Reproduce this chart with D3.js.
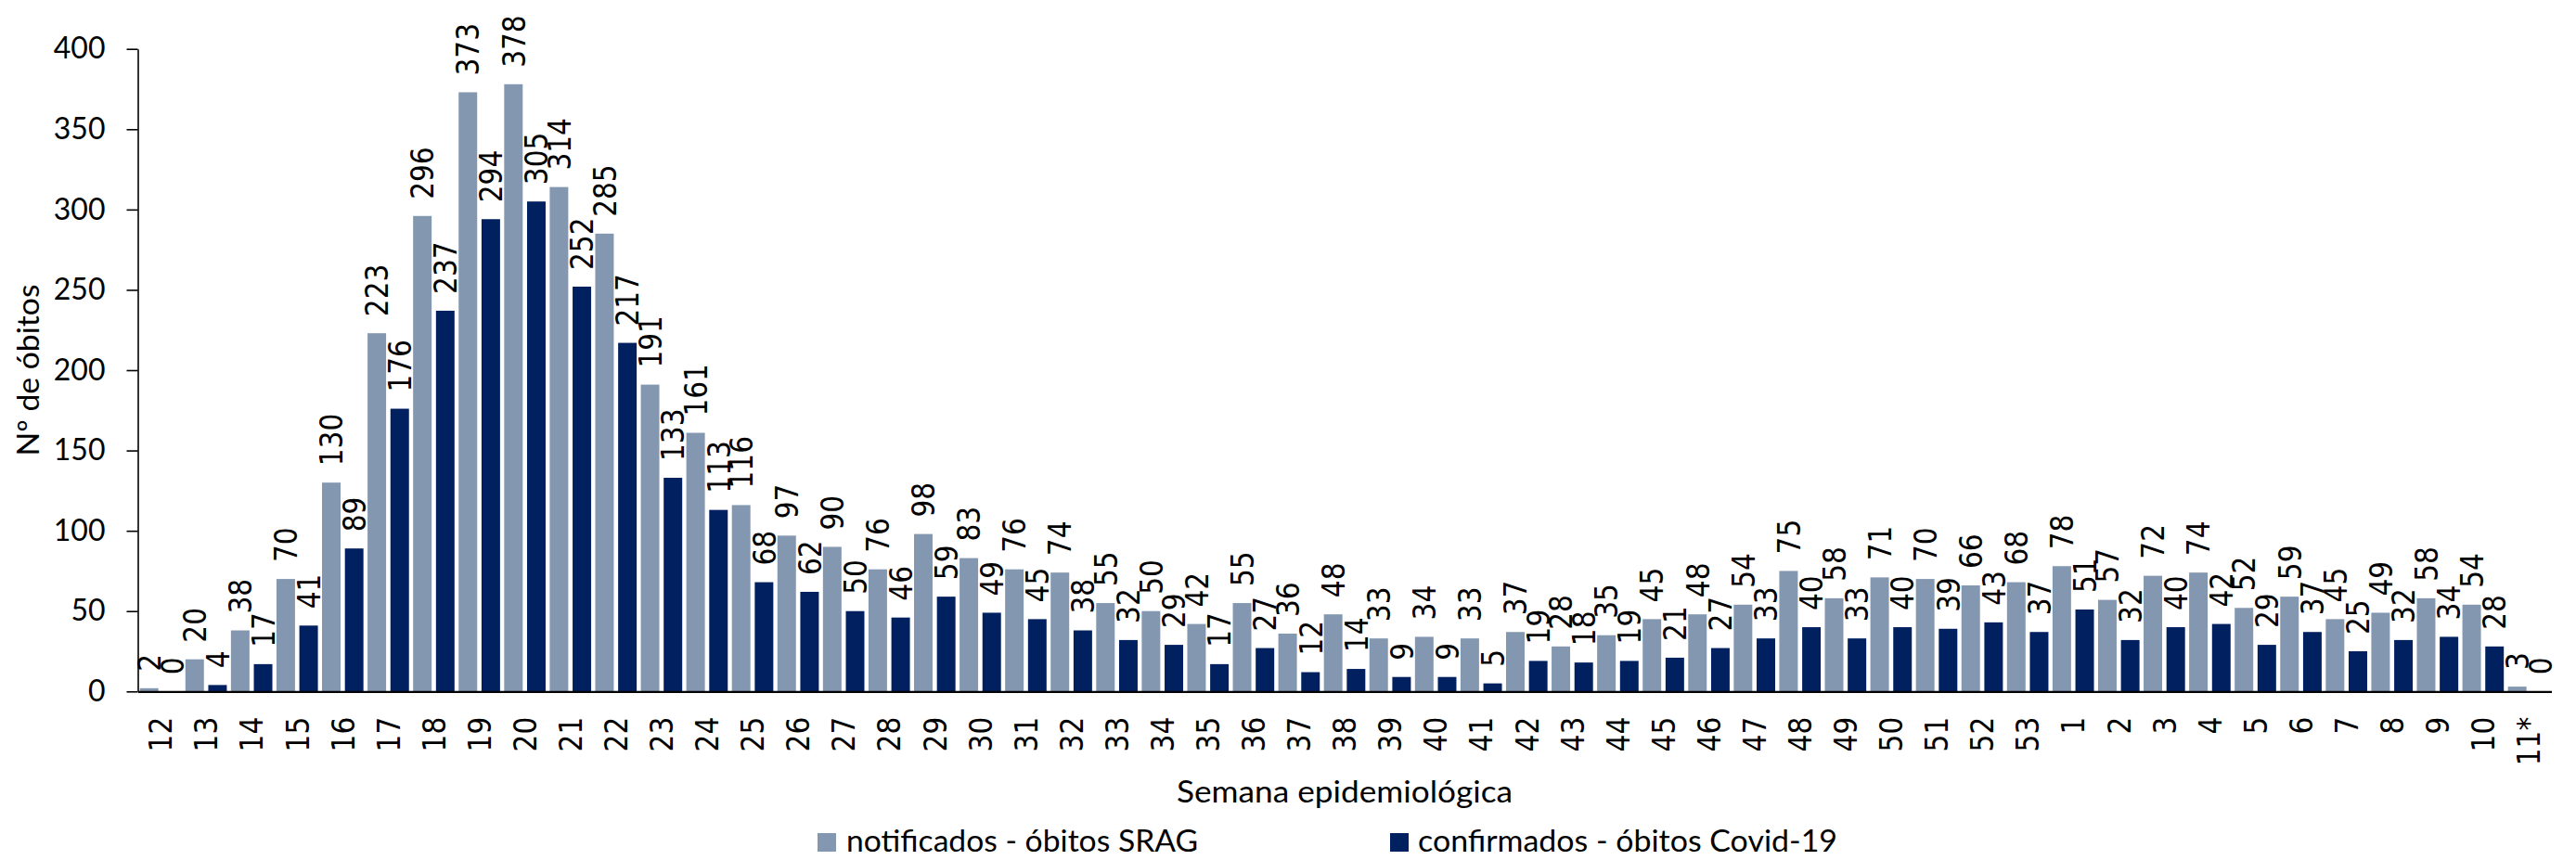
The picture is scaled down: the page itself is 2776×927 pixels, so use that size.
<!DOCTYPE html>
<html>
<head>
<meta charset="utf-8">
<script src="https://cdn.jsdelivr.net/npm/d3@7"></script>
<style>
  html, body { margin: 0; padding: 0; background: #ffffff; }
  svg { display: block; }
</style>
</head>
<body>
<svg id="chart" width="2776" height="927"></svg>
<script>
// ---- Data ----
const weeks = ["12","13","14","15","16","17","18","19","20","21","22","23","24","25","26","27","28","29","30","31","32","33","34","35","36","37","38","39","40","41","42","43","44","45","46","47","48","49","50","51","52","53","1","2","3","4","5","6","7","8","9","10","11*"];
const notificados = [2,20,38,70,130,223,296,373,378,314,285,191,161,116,97,90,76,98,83,76,74,55,50,42,55,36,48,33,34,33,37,28,35,45,48,54,75,58,71,70,66,68,78,57,72,74,52,59,45,49,58,54,3];
const confirmados = [0,4,17,41,89,176,237,294,305,252,217,133,113,68,62,50,46,59,49,45,38,32,29,17,27,12,14,9,9,5,19,18,19,21,27,33,40,33,40,39,43,37,51,32,40,42,29,37,25,32,34,28,0];
const seriesNames = ["notificados - óbitos SRAG", "confirmados - óbitos Covid-19"];
const seriesColors = ["#8497B0", "#002060"];
const yTicks = [0,50,100,150,200,250,300,350,400];
const yTitle = "Nº de óbitos";
const xTitle = "Semana epidemiológica";

(function () {
// ---- Layout ----
const svg = d3.select("#chart");
const pLeft = 148.5, pRight = 2749.5, pTop = 52.7, pBottom = 745.3;
const labelFont = "'DejaVu Sans', sans-serif";
const titleFont = "Lato, 'Liberation Sans', sans-serif";

const x = d3.scaleBand().domain(weeks).range([pLeft, pRight]).paddingInner(0).paddingOuter(0);
const x1 = d3.scaleBand().domain([0,1]).range([0, x.bandwidth()]).paddingInner(0.19).paddingOuter(0.09);
const y = d3.scaleLinear().domain([0, 400]).range([pBottom, pTop]);

const data = weeks.map((w, i) => ({ week: w, values: [notificados[i], confirmados[i]] }));

// Bars
const groups = svg.append("g").selectAll("g").data(data).join("g")
  .attr("transform", d => `translate(${x(d.week)},0)`);

groups.selectAll("rect").data(d => d.values.map((v, s) => ({ v, s }))).join("rect")
  .attr("x", d => x1(d.s))
  .attr("width", x1.bandwidth())
  .attr("y", d => y(d.v))
  .attr("height", d => pBottom - y(d.v))
  .attr("fill", d => seriesColors[d.s]);

// Data labels
const condense = 0.87;
groups.selectAll("text.val").data(d => d.values.map((v, s) => ({ v, s }))).join("text")
  .attr("class", "val")
  .attr("transform", d => `translate(${x1(d.s) + x1.bandwidth() / 2},${y(d.v) - 18}) rotate(-90)`)
  .attr("dy", "0.36em")
  .attr("text-anchor", "start")
  .attr("font-family", labelFont)
  .attr("font-size", 34)
  .attr("fill", "#000")
  .text(d => d.v)
  .each(function () {
    const L = this.getComputedTextLength();
    d3.select(this).attr("textLength", L * condense).attr("lengthAdjust", "spacingAndGlyphs");
  });

// Y axis
const yAxis = svg.append("g")
  .attr("transform", `translate(${pLeft},0)`)
  .call(d3.axisLeft(y).tickValues(yTicks).tickSize(12).tickSizeOuter(0).tickPadding(23));
yAxis.select(".domain").attr("stroke", "#000").attr("stroke-width", 1.6);
yAxis.selectAll(".tick line").attr("stroke", "#000").attr("stroke-width", 1.6);
yAxis.selectAll(".tick text")
  .attr("font-family", titleFont)
  .attr("font-size", 32)
  .attr("fill", "#000");

// X axis
const xAxis = svg.append("g")
  .attr("transform", `translate(0,${pBottom})`)
  .call(d3.axisBottom(x).tickSize(0).tickSizeOuter(0).tickPadding(0));
xAxis.select(".domain").attr("stroke", "#000").attr("stroke-width", 2.2);
xAxis.selectAll(".tick text")
  .attr("font-family", labelFont)
  .attr("font-size", 34)
  .attr("fill", "#000")
  .attr("y", 0)
  .attr("x", -27.5)
  .attr("dy", "0.36em")
  .attr("text-anchor", "end")
  .attr("transform", "rotate(-90)")
  .each(function () {
    const L = this.getComputedTextLength();
    d3.select(this).attr("textLength", L * condense).attr("lengthAdjust", "spacingAndGlyphs");
  });

// Axis titles
svg.append("text")
  .attr("transform", `translate(42,${(pTop + pBottom) / 2}) rotate(-90)`)
  .attr("text-anchor", "middle")
  .attr("font-family", titleFont)
  .attr("font-size", 32)
  .attr("fill", "#000")
  .attr("textLength", 185).attr("lengthAdjust", "spacingAndGlyphs")
  .text(yTitle);

svg.append("text")
  .attr("x", (pLeft + pRight) / 2)
  .attr("y", 865)
  .attr("text-anchor", "middle")
  .attr("font-family", titleFont)
  .attr("font-size", 32)
  .attr("fill", "#000")
  .attr("textLength", 362).attr("lengthAdjust", "spacingAndGlyphs")
  .text(xTitle);

// Legend
const legendItems = [
  { name: seriesNames[0], color: seriesColors[0], sx: 881, tx: 912, tl: 379 },
  { name: seriesNames[1], color: seriesColors[1], sx: 1498, tx: 1528, tl: 452 }
];
const lg = svg.append("g");
lg.selectAll("rect").data(legendItems).join("rect")
  .attr("x", d => d.sx).attr("y", 898).attr("width", 20).attr("height", 20)
  .attr("fill", d => d.color);
lg.selectAll("text").data(legendItems).join("text")
  .attr("x", d => d.tx).attr("y", 918)
  .attr("font-family", titleFont)
  .attr("font-size", 32)
  .attr("fill", "#000")
  .attr("textLength", d => d.tl).attr("lengthAdjust", "spacingAndGlyphs")
  .text(d => d.name);
})();
</script>
</body>
</html>
